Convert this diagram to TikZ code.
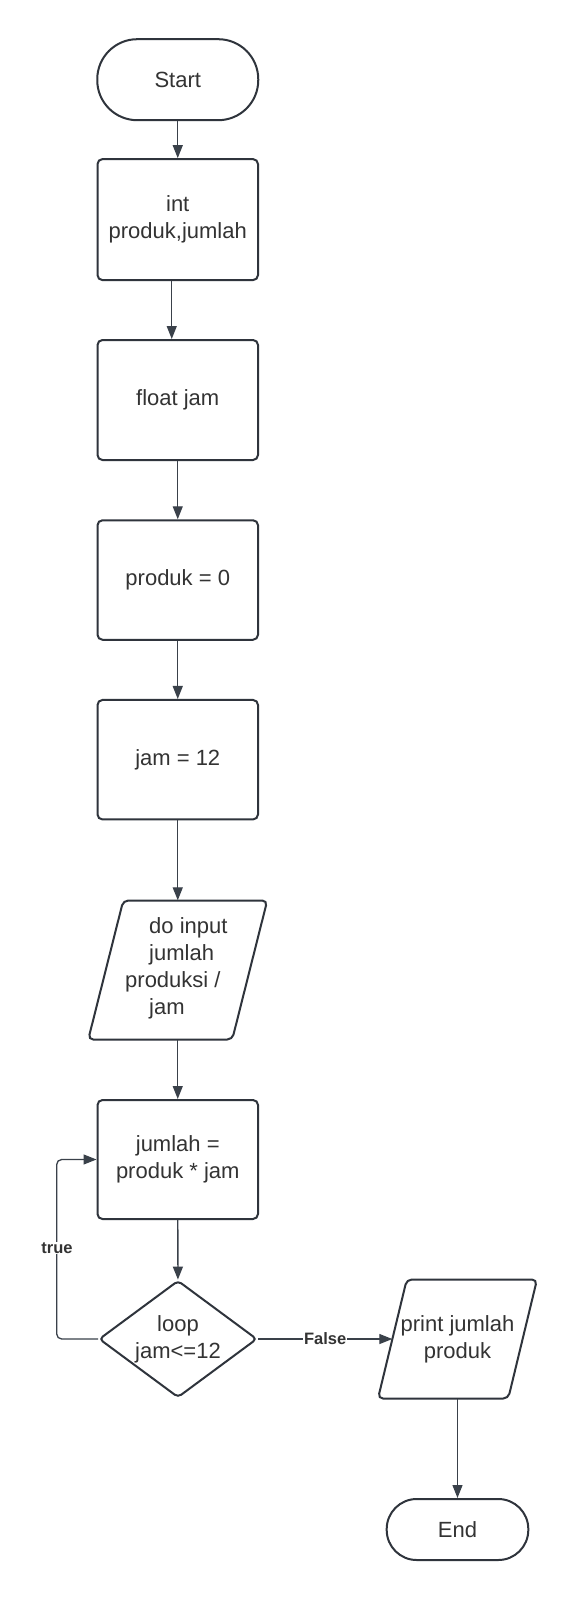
\documentclass[tikz,border=0pt]{standalone}
\usepackage{fontspec}
\setmainfont{Liberation Sans}
\usetikzlibrary{arrows.meta,shapes.geometric,positioning,calc}
\definecolor{shapeline}{HTML}{2F343C}
\definecolor{conline}{HTML}{3A414A}
\definecolor{txt}{HTML}{333333}
\begin{document}
\begin{tikzpicture}[x=1pt,y=-1pt,
  every node/.style={text=txt, font=\fontsize{22}{27}\selectfont},
  term/.style={draw=shapeline, line width=2pt, rectangle, inner sep=0pt},
  procbox/.style={draw=shapeline, line width=2pt, rectangle, rounded corners=5pt,
    minimum width=160.5pt, minimum height=120pt, align=center, inner sep=0pt},
  iobox/.style={rectangle, inner sep=0pt, align=center},
  ioline/.style={draw=shapeline, line width=2pt, rounded corners=5pt},
  decbox/.style={draw=shapeline, line width=2pt, diamond, aspect=1.34, rounded corners=4pt,
    minimum width=158pt, minimum height=117pt, inner sep=0pt, align=center},
  conn/.style={draw=conline, line width=1.3pt, -{Triangle[length=13pt,width=10pt]}},
  lbl/.style={fill=white, inner sep=1pt, font=\fontsize{16.5}{19}\selectfont\bfseries}
]
\useasboundingbox (0,0) rectangle (578,1600);
\fill[white] (0,0) rectangle (578,1600);

\node[term, minimum width=161pt, minimum height=81pt, rounded corners=40pt] (start) at (177.75,79.7) {Start};
\node[procbox, minimum height=121pt] (b1) at (177.75,219.6) {int\\produk,jumlah};
\node[procbox] (b2) at (177.75,400) {float jam};
\node[procbox, minimum height=119.5pt] (b3) at (177.75,580) {produk = 0};
\node[procbox, minimum height=119.5pt] (b4) at (177.75,759.7) {jam = 12};
\node[iobox, minimum width=179pt, minimum height=139pt] (io) at (177.75,970) {};
\draw[ioline] ([shift={(-54.5,-69.5)}]io.center) -- ([shift={(89.5,-69.5)}]io.center)
  -- ([shift={(54.5,69.5)}]io.center) -- ([shift={(-89.5,69.5)}]io.center) -- cycle;
\node[anchor=west, inner sep=0pt, align=left] (iotext) at (149,968)
  {do input\\jumlah\\\hspace*{-24pt}produksi /\\jam};
\node[procbox, minimum height=119pt] (b5) at (177.75,1159.5) {jumlah =\\produk * jam};
\node[decbox] (dia) at (178,1339) {loop\\jam<=12};
\node[iobox, minimum width=159pt, minimum height=119pt] (pr) at (457.5,1339) {print jumlah\\produk};
\draw[ioline] ([shift={(-50.75,-59.5)}]pr.center) -- ([shift={(79.5,-59.5)}]pr.center)
  -- ([shift={(50.75,59.5)}]pr.center) -- ([shift={(-79.5,59.5)}]pr.center) -- cycle;
\node[term, minimum width=141.6pt, minimum height=61pt, rounded corners=30pt] (endn) at (457.5,1529.5) {End};

\draw[conn] (start) -- (b1);
\draw[conn] ([xshift=-6pt]b1.south) -- ([xshift=-6pt]b2.north);
\draw[conn] (b2) -- (b3);
\draw[conn] (b3) -- (b4);
\draw[conn] (b4.south) -- (io.north);
\draw[conn] (io.south) -- (b5.north);
\draw[conn] (b5) -- (dia);
\draw[conn, rounded corners=5pt] (dia.west) -- (56.7,1339) |- (b5.west);
\node[lbl] (truelbl) at (57,1248) {true};
\draw[conn] (dia.east) -- node[lbl] (falselbl) {False} ([xshift=14.5pt]pr.west);
\draw[conn] (pr.south) -- (endn.north);
\end{tikzpicture}
\end{document}
